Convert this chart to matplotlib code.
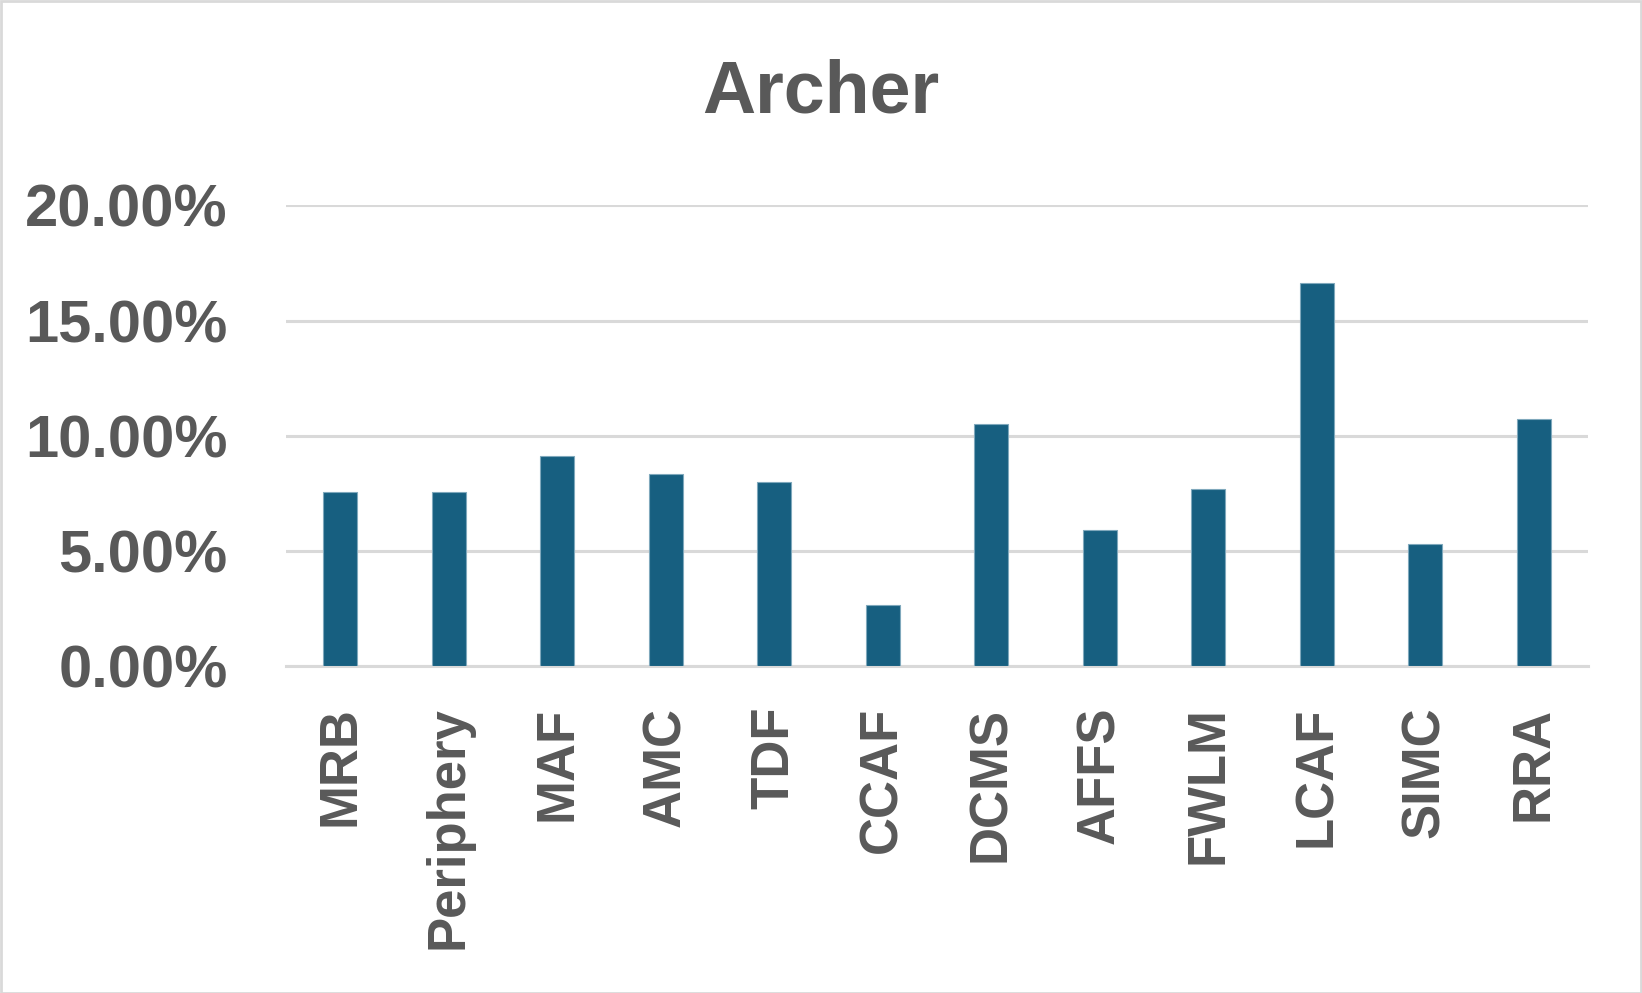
import matplotlib
matplotlib.use("Agg")
import matplotlib.pyplot as plt
from matplotlib.ticker import FuncFormatter
from matplotlib.patches import Rectangle

categories = ["MRB", "Periphery", "MAF", "AMC", "TDF", "CCAF", "DCMS",
              "AFFS", "FWLM", "LCAF", "SIMC", "RRA"]
values = [7.55, 7.55, 9.11, 8.33, 8.00, 2.65, 10.50, 5.90, 7.68, 16.62, 5.29, 10.72]
yticks = [0, 5, 10, 15, 20]
title = "Archer"

plt.rcParams['font.family'] = ['Liberation Sans', 'DejaVu Sans']
text_color = "#595959"
bar_color = "#175F80"
grid_color = "#D9D9D9"

W, H = 1642, 993
fig = plt.figure(figsize=(W / 100, H / 100), dpi=100)
ax = fig.add_axes([286 / W, 1 - 666.3 / H, (1588 - 286) / W, (666.3 - 205.3) / H])

x = list(range(len(categories)))
ax.bar(x, values, width=0.31, color=bar_color, edgecolor="#7FA8BC", linewidth=0.8, zorder=3)

ax.set_xlim(-0.5, len(categories) - 0.5)
ax.set_ylim(0, 20)
ax.set_yticks(yticks)
ax.yaxis.set_major_formatter(FuncFormatter(lambda v, p: f"{v:.2f}%"))
ax.set_xticks(x)
ax.set_xticklabels(categories, rotation=90)

ax.grid(axis="y", color=grid_color, linewidth=2.2, zorder=0)
ax.set_axisbelow(True)
for s in ["top", "right", "left"]:
    ax.spines[s].set_visible(False)
ax.spines["bottom"].set_color(grid_color)
ax.spines["bottom"].set_linewidth(2.2)
ax.spines["bottom"].set_zorder(0)

ax.tick_params(axis="y", length=0, pad=42, labelsize=43, labelcolor=text_color)
ax.tick_params(axis="x", length=0, pad=29, labelsize=38, labelcolor=text_color)
for lab in ax.get_yticklabels() + ax.get_xticklabels():
    lab.set_fontweight("bold")

fig.text(0.5, 1 - 93 / H, title, ha="center", va="center", fontsize=53,
         fontweight="bold", color=text_color)

fig.patches.append(Rectangle((0.5 / W, 0.5 / H), 1 - 1.5 / W, 1 - 1.5 / H,
                             transform=fig.transFigure, fill=False,
                             edgecolor=grid_color, linewidth=2))

fig.savefig("out.png", dpi=100, facecolor="white")
